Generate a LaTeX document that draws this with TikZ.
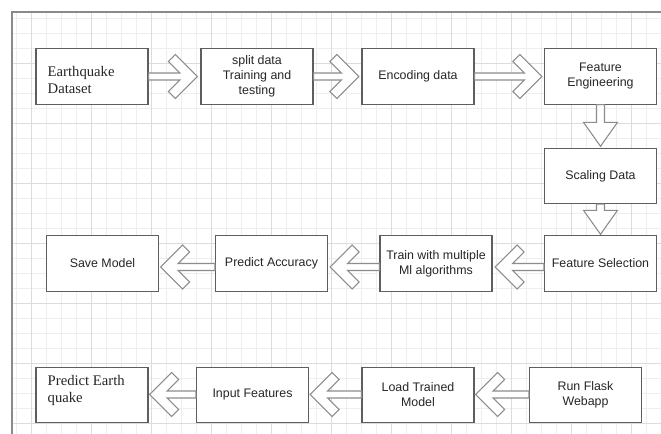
\documentclass[tikz,border=0pt]{standalone}
\usepackage{fontspec}
\setmainfont{Liberation Serif}
\setsansfont{Liberation Sans}
\usetikzlibrary{calc}
\newdimen\pxu \pxu=0.75pt
\definecolor{gridminor}{HTML}{EEEEEE}
\definecolor{gridmajor}{HTML}{DCDCDC}
\definecolor{framecol}{HTML}{8A8A8A}
\definecolor{boxcol}{HTML}{5E5E5E}
\definecolor{arrcol}{HTML}{8C8C8C}
\definecolor{txtcol}{HTML}{262626}
\newcommand\chevarrow[3]{%
  \draw[arrowshape] let \p1=(#1), \p2=(#2) in
   ({\x1},{\y2+3.5*\pxu}) -- ({\x2-#3*17.5*\pxu},{\y2+3.5*\pxu})
   -- ({\x2-#3*29*\pxu},{\y2+15*\pxu}) -- ({\x2-#3*22*\pxu},{\y2+22*\pxu})
   -- ({\x2},{\y2})
   -- ({\x2-#3*22*\pxu},{\y2-22*\pxu}) -- ({\x2-#3*29*\pxu},{\y2-15*\pxu})
   -- ({\x2-#3*17.5*\pxu},{\y2-3.5*\pxu}) -- ({\x1},{\y2-3.5*\pxu}) -- cycle;}
\newcommand\blockdown[2]{%
  \draw[arrowshape] let \p1=(#1), \p2=(#2) in
   ({\x2-4*\pxu},{\y1}) -- ({\x2-4*\pxu},{\y2+24*\pxu}) -- ({\x2-17*\pxu},{\y2+24*\pxu})
   -- ({\x2},{\y2})
   -- ({\x2+17*\pxu},{\y2+24*\pxu}) -- ({\x2+4*\pxu},{\y2+24*\pxu}) -- ({\x2+4*\pxu},{\y1}) -- cycle;}
\begin{document}
\begin{tikzpicture}[x=0.75pt,y=-0.75pt,
  minorline/.style={draw=gridminor, line width=0.75pt},
  majorline/.style={draw=gridmajor, line width=0.75pt},
  framestyle/.style={draw=framecol, line width=1.6pt},
  box/.style={draw=boxcol, line width=0.8pt, fill=white, minimum width=84pt,
    minimum height=41.5pt, inner sep=0pt, align=center, text=txtcol,
    font=\sffamily\fontsize{9.3}{11.25}\selectfont},
  serif/.style={inner sep=0pt, align=left, text=txtcol,
    font=\rmfamily\fontsize{11}{12.75}\selectfont},
  arrowshape/.style={draw=arrcol, line width=0.8pt, fill=white, line join=miter}]
\useasboundingbox (0,0) rectangle (661,434);
\fill[white] (0,0) rectangle (661,434);
% grid
\foreach \gx in {16.7,31.7,...,660} \draw[minorline] (\gx,12) -- (\gx,434);
\foreach \gy in {18.3,33.3,...,434} \draw[minorline] (12,\gy) -- (661,\gy);
\foreach \gx in {31.7,91.7,...,660} \draw[majorline] (\gx,12) -- (\gx,434);
\foreach \gy in {63.3,123.3,...,434} \draw[majorline] (12,\gy) -- (661,\gy);
% frame
\draw[framestyle] (661,12) -- (12,12) -- (12,434);
% boxes
\node[box] (b1) at (92,76.5) {};
\node[box] (b2) at (257,76.5) {split data\\Training and\\testing};
\node[box] (b3) at (418,76.5) {Encoding data};
\node[box] (b4) at (600.5,76.5) {Feature\\Engineering};
\node[box] (b5) at (600.5,176) {Scaling Data};
\node[box] (b6) at (600.5,263.5) {Feature Selection};
\node[box] (b7) at (436,263.5) {Train with multiple\\Ml algorithms};
\node[box] (b8) at (271.5,263.5) {Predict Accuracy};
\node[box] (b9) at (102.5,263.5) {Save Model};
\node[box] (b10) at (92,395) {};
\node[box] (b11) at (252.5,395) {Input Features};
\node[box] (b12) at (418,395) {Load Trained\\Model};
\node[box] (b13) at (585.5,395) {Run Flask\\Webapp};
\node[serif, anchor=west] (b1t) at ($(b1.west)+(12,3)$) {Earthquake\\Dataset};
\node[serif, anchor=west] (b10t) at ($(b10.west)+(12,-4.5)$) {Predict Earth\\quake};
% arrows
\chevarrow{b1.east}{$(b2.west)+(-3,0)$}{1}
\chevarrow{b2.east}{$(b3.west)+(-2.5,0)$}{1}
\chevarrow{b3.east}{$(b4.west)+(-2,0)$}{1}
\blockdown{b4.south}{$(b5.north)+(0,-1.5)$}
\blockdown{b5.south}{$(b6.north)+(0,-1)$}
\chevarrow{b6.west}{$(b7.east)+(2.5,3.5)$}{(-1)}
\chevarrow{b7.west}{$(b8.east)+(2,3.5)$}{(-1)}
\chevarrow{b8.west}{$(b9.east)+(1.5,3.5)$}{(-1)}
\chevarrow{b13.west}{$(b12.east)+(1,-0.5)$}{(-1)}
\chevarrow{b12.west}{$(b11.east)+(1,-0.5)$}{(-1)}
\chevarrow{b11.west}{$(b10.east)+(1,-0.5)$}{(-1)}
\end{tikzpicture}
\end{document}
